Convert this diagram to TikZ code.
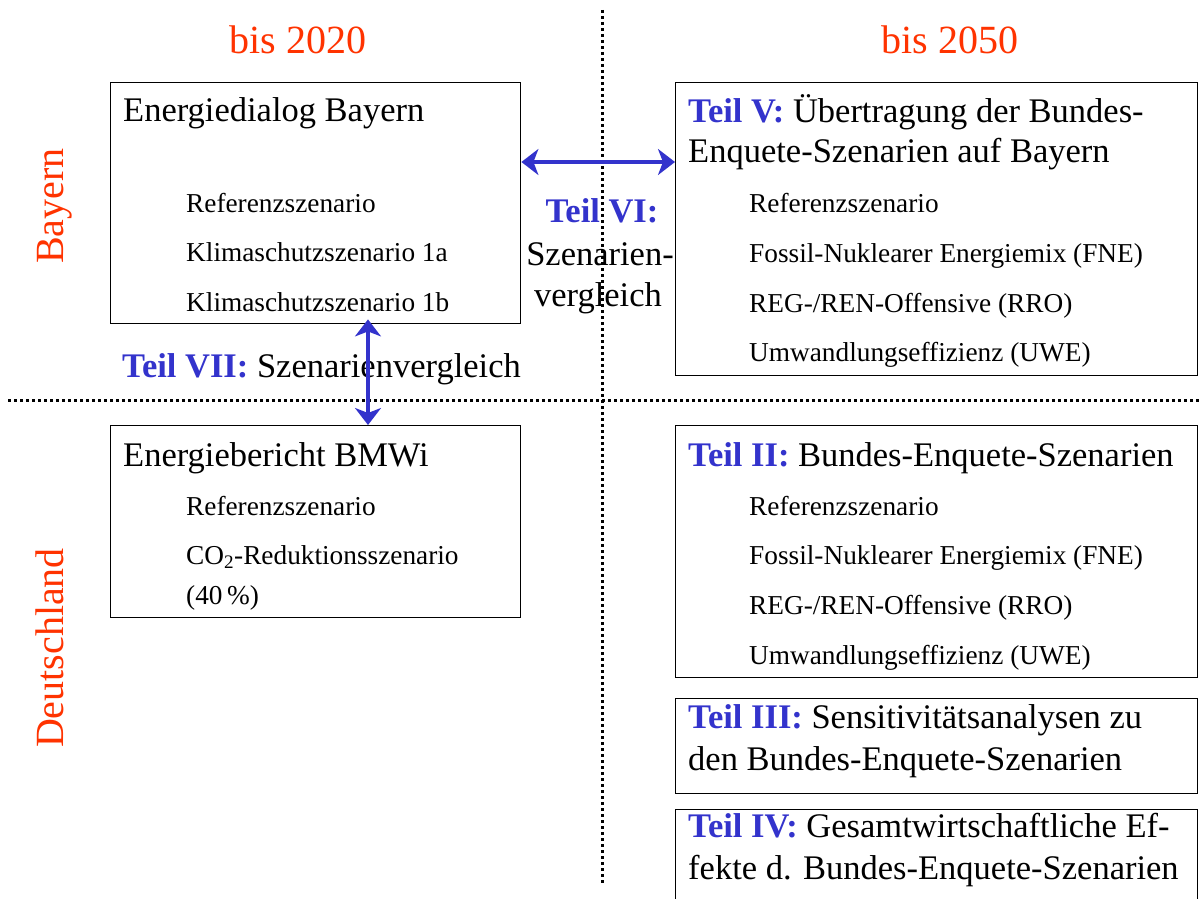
\documentclass[tikz,border=0pt]{standalone}
\usepackage{fontspec}
\setmainfont{Liberation Serif}
\usetikzlibrary{arrows.meta}
\definecolor{rd}{RGB}{255,51,0}
\definecolor{bl}{RGB}{51,51,204}
\newcommand{\fbig}{\fontsize{34.5}{41}\selectfont}
\newcommand{\fsml}{\fontsize{27.3}{32}\selectfont}
\newcommand{\fhd}{\fontsize{40}{48}\selectfont}
\newcommand{\teil}[1]{\textcolor{bl}{\textbf{#1}}}
\tikzset{
  box/.style={draw=black, line width=1.4pt, rectangle, inner sep=0pt, anchor=north west},
  bigtxt/.style={anchor=base west, inner sep=0pt, font=\fbig},
  smltxt/.style={anchor=base west, inner sep=0pt, font=\fsml},
  hdr/.style={anchor=base, inner sep=0pt, font=\fhd, text=rd},
  side/.style={anchor=base, inner sep=0pt, font=\fhd, text=rd, rotate=90},
  dots/.style={line width=3pt, dash pattern=on 3pt off 3pt},
  conn/.style={bl, line width=3.2pt, {Stealth[length=17pt,width=26pt,inset=5pt]}-{Stealth[length=17pt,width=26pt,inset=5pt]}}
}
\begin{document}
\begin{tikzpicture}[x=1pt,y=1pt]
\useasboundingbox (0,0) rectangle (1199,-899);
\clip (0,0) rectangle (1199,-899);
\fill[white] (0,0) rectangle (1199,-899);
% dotted separators
\coordinate (vt) at (602,-10);
\coordinate (vb) at (602,-885);
\coordinate (hl) at (8,-400);
\coordinate (hr) at (1199,-400);
\draw[dots] (vt) -- (vb);
\draw[dots] (hl) -- (hr);
% headers
\node[hdr] (h1) at (298,-54) {bis 2020};
\node[hdr] (h2) at (950,-54) {bis 2050};
\node[side] (s1) at (63,-206) {Bayern};
\node[side] (s2) at (63,-648) {Deutschland};
% boxes
\node[box, minimum width=410, minimum height=241] (b1) at (110,-82) {};
\node[box, minimum width=522, minimum height=293] (b2) at (675,-82) {};
\node[box, minimum width=410, minimum height=192] (b3) at (110,-425) {};
\node[box, minimum width=522, minimum height=252] (b4) at (675,-425) {};
\node[box, minimum width=522, minimum height=95] (b5) at (675,-698) {};
\node[box, minimum width=522, minimum height=110] (b6) at (675,-809) {};
% box 1
\node[bigtxt] (t1) at (123,-121) {Energiedialog Bayern};
\node[smltxt] (t1a) at (186,-212) {Referenzszenario};
\node[smltxt] (t1b) at (186,-261) {Klimaschutzszenario 1a};
\node[smltxt] (t1c) at (186,-311) {Klimaschutzszenario 1b};
% box 2
\node[bigtxt] (t2) at (688,-122) {\teil{Teil V:} Übertragung der Bundes-};
\node[bigtxt] (t2x) at (688,-162.5) {Enquete-Szenarien auf Bayern};
\node[smltxt] (t2a) at (749,-212) {Referenzszenario};
\node[smltxt] (t2b) at (749,-262) {Fossil-Nuklearer Energiemix (FNE)};
\node[smltxt] (t2c) at (749,-312) {REG-/REN-Offensive (RRO)};
\node[smltxt] (t2d) at (749,-361) {Umwandlungseffizienz (UWE)};
% Teil VI
\node[anchor=base, inner sep=0pt, font=\fbig] (t6a) at (602,-222) {\teil{Teil VI:}};
\node[anchor=base, inner sep=0pt, font=\fbig] (t6b) at (600,-265.5) {Szenarien-};
\node[anchor=base, inner sep=0pt, font=\fbig] (t6c) at (598,-306) {vergleich};
% box 3
\node[bigtxt] (t3) at (123,-466.5) {Energiebericht BMWi};
\node[smltxt] (t3a) at (186,-515) {Referenzszenario};
\node[smltxt] (t3b) at (186,-564) {CO\textsubscript{2}-Reduktionsszenario};
\node[smltxt] (t3c) at (186,-604) {(40\,\%)};
% Teil VII
\node[bigtxt] (t7) at (122,-377.5) {\teil{Teil VII:} Szenarienvergleich};
% box 4
\node[bigtxt] (t4) at (688,-466.5) {\teil{Teil II:} Bundes-Enquete-Szenarien};
\node[smltxt] (t4a) at (749,-515) {Referenzszenario};
\node[smltxt] (t4b) at (749,-564) {Fossil-Nuklearer Energiemix (FNE)};
\node[smltxt] (t4c) at (749,-614) {REG-/REN-Offensive (RRO)};
\node[smltxt] (t4d) at (749,-664) {Umwandlungseffizienz (UWE)};
% box 5
\node[bigtxt] (t5) at (688,-728.5) {\teil{Teil III:} Sensitivitätsanalysen zu};
\node[bigtxt] (t5x) at (688,-770.5) {den Bundes-Enquete-Szenarien};
% box 6
\node[bigtxt] (t6) at (688,-837.5) {\teil{Teil IV:} Gesamtwirtschaftliche Ef-};
\node[bigtxt] (t6x) at (688,-879.5) {fekte d. Bundes-Enquete-Szenarien};
% arrows
\draw[conn] (b1.east |- 0,-162) -- (b2.west |- 0,-162);
\draw[conn] ([yshift=5pt]b1.south -| 368,0) -- (b3.north -| 368,0);
\end{tikzpicture}
\end{document}
